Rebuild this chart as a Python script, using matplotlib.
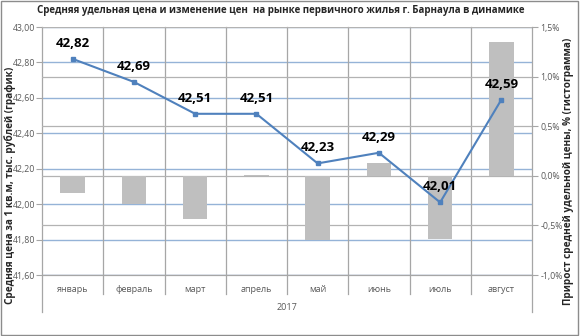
import numpy as np
import matplotlib
matplotlib.use('Agg')
import matplotlib.pyplot as plt
from matplotlib.patches import Rectangle
import matplotlib.transforms as mtransforms

plt.rcParams['font.family'] = ['Open Sans', 'DejaVu Sans']

months = ['январь', 'февраль', 'март', 'апрель', 'май', 'июнь', 'июль', 'август']
price = [42.82, 42.69, 42.51, 42.51, 42.23, 42.29, 42.01, 42.59]
change_pct = [-0.17, -0.28, -0.44, 0.004, -0.65, 0.13, -0.64, 1.35]
year = '2017'

left_ticks = [41.6, 41.8, 42.0, 42.2, 42.4, 42.6, 42.8, 43.0]
right_ticks = [-1.0, -0.5, 0.0, 0.5, 1.0, 1.5]

title = 'Средняя удельная цена и изменение цен  на рынке первичного жилья г. Барнаула в динамике'
left_label = 'Средняя цена за 1 кв.м, тыс. рублей (график)'
right_label = 'Прирост средней удельной цены, % (гистограмма)'

line_color = '#4F81BD'
bar_color = '#BFBFBF'
blue_grid = '#95B3D7'
gray_grid = '#B3B3B3'
sep_color = '#A6A6A6'
tick_color = '#595959'

fig = plt.figure(figsize=(5.8, 3.36), dpi=100)
fig.patch.set_facecolor('white')
ax = fig.add_axes([42 / 580, 61 / 336, 490 / 580, 248 / 336])
ax2 = ax.twinx()

x = np.arange(len(months))

# left axis: price grid (behind everything)
ax.set_xlim(-0.5, len(months) - 0.5)
ax.set_ylim(41.6, 43.0)
ax.set_yticks(left_ticks)
ax.set_yticklabels([f'{v:.2f}'.replace('.', ',') for v in left_ticks])
ax.yaxis.grid(True, color=blue_grid, linewidth=1.0)
ax.set_axisbelow(True)
ax.set_xticks(x)
ax.set_xticklabels(months)
ax.tick_params(axis='x', length=0, pad=7, labelsize=6.5, labelcolor=tick_color)
ax.tick_params(axis='y', length=4, width=0.8, color=sep_color, pad=1, labelsize=6.3, labelcolor=tick_color)

# right axis: percent bars
ax2.set_ylim(-1.0, 1.5)
ax2.set_yticks(right_ticks)
ax2.set_yticklabels([f'{v:.1f}%'.replace('.', ',') for v in right_ticks])
ax2.yaxis.grid(True, color=gray_grid, linewidth=0.9)
ax2.set_axisbelow(True)
ax2.tick_params(axis='y', length=4, width=0.8, color=sep_color, pad=2, labelsize=6.3, labelcolor=tick_color)
ax2.bar(x, change_pct, width=0.4, color=bar_color, zorder=2)

# price line drawn on the front axes using the left scale
ax2.plot(x, price, color=line_color, linewidth=1.5, marker='s', markersize=3.2,
         transform=ax.transData, zorder=4)
for xi, p in zip(x, price):
    ax2.annotate(f'{p:.2f}'.replace('.', ','), xy=(xi, p), xycoords=ax.transData,
                 xytext=(0, 6.5), textcoords='offset points', ha='center', va='bottom',
                 fontsize=9.5, fontweight='bold', color='black', zorder=5)

for a in (ax, ax2):
    for s in ('top', 'left', 'right'):
        a.spines[s].set_visible(False)
    a.spines['bottom'].set_color(sep_color)

# category separators and outer edges extending below the axis
trans = mtransforms.blended_transform_factory(ax.transData, ax.transAxes)
for b in np.arange(0.5, len(months) - 0.5, 1):
    ax.plot([b, b], [1, -0.077], transform=trans, color=sep_color, linewidth=0.9,
            clip_on=False, zorder=1)
for b in (-0.5, len(months) - 0.5):
    ax.plot([b, b], [1, -0.15], transform=trans, color=sep_color, linewidth=0.9,
            clip_on=False, zorder=1)

ax.text(0.5, -0.13, year, transform=ax.transAxes, ha='center', va='center',
        fontsize=6.5, color=tick_color)

fig.text(281 / 580, 1 - 11 / 336, title, ha='center', va='center', fontsize=7.0,
         fontweight='bold', color='#262626')
fig.text(10 / 580, 1 - 185 / 336, left_label, rotation=90, ha='center', va='center',
         fontsize=7.2, fontweight='bold', color='#262626')
fig.text(569 / 580, 1 - 171 / 336, right_label, rotation=90, ha='center', va='center',
         fontsize=7.2, fontweight='bold', color='#262626')

fig.patches.append(Rectangle((0.002, 0.003), 0.995, 0.994, transform=fig.transFigure,
                             fill=False, edgecolor='#8C8C8C', linewidth=1.0))

fig.savefig('out.png', dpi=100)
